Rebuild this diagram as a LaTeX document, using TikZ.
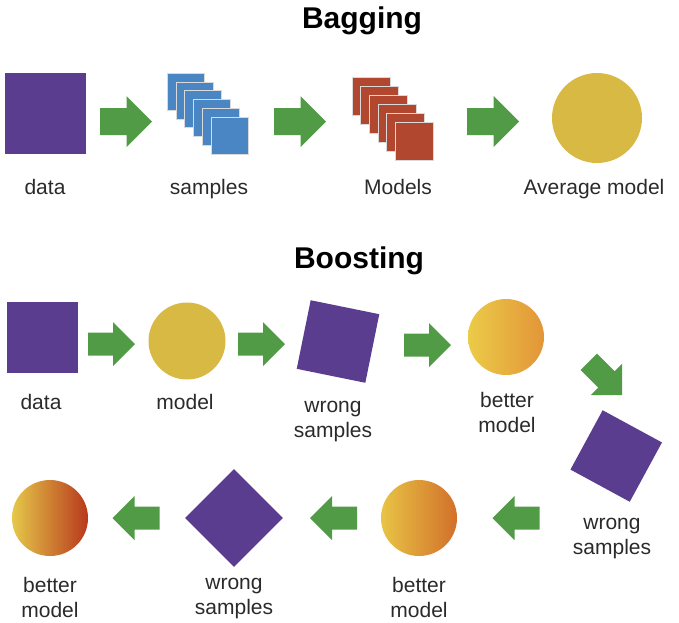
\documentclass[tikz,border=0pt]{standalone}
\usepackage{fontspec}
\setmainfont{Liberation Sans}
\usetikzlibrary{shapes.geometric}
\definecolor{purp}{HTML}{5A3D8F}
\definecolor{sblue}{HTML}{4A85C4}
\definecolor{mred}{HTML}{B0472E}
\definecolor{myel}{HTML}{D8B943}
\definecolor{agreen}{HTML}{519B46}
\definecolor{txtgray}{HTML}{2A2A2A}
\definecolor{gyA}{HTML}{EBCB48}
\definecolor{goA}{HTML}{E39538}
\definecolor{gyB}{HTML}{E8C445}
\definecolor{goB}{HTML}{D2702A}
\definecolor{gyC}{HTML}{E5C84A}
\definecolor{grC}{HTML}{B8381C}
\tikzset{
  garrow/.pic={\fill[agreen] (-23.5,-11.5) -- (1.5,-11.5) -- (1.5,-22) -- (23.5,0) -- (1.5,22) -- (1.5,11.5) -- (-23.5,11.5) -- cycle;},
  garrowbig/.pic={\fill[agreen] (-26,-13.5) -- (0.5,-13.5) -- (0.5,-25.5) -- (26,0) -- (0.5,25.5) -- (0.5,13.5) -- (-26,13.5) -- cycle;},
  lbl/.style={font=\fontsize{21}{24.5}\selectfont, text=txtgray, align=center, inner sep=0pt, anchor=base},
  ttl/.style={font=\fontsize{30}{34}\selectfont\bfseries, inner sep=0pt, anchor=base},
  sqr/.style={rectangle, fill=purp, inner sep=0pt, minimum size=#1},
  circ/.style={circle, inner sep=0pt, minimum size=#1},
  stk/.style={rectangle, inner sep=0pt, minimum size=#1, draw=white!85!black, line width=0.4pt},
}
\begin{document}
\begin{tikzpicture}[x=1pt,y=-1pt]
\useasboundingbox (0,0) rectangle (679,622);
% ---------- Bagging ----------
\node[ttl] (t1) at (362,28) {Bagging};
\node[sqr=81] (bdata) at (45.5,113.5) {};
\pic (ba1) at (126,121.5) {garrowbig};
\foreach \i in {0,...,5}{
  \node[stk=37, fill=sblue] (bs\i) at (185.5+8.8*\i,91.5+8.8*\i) {};
}
\pic (ba2) at (300,121.5) {garrowbig};
\foreach \i in {0,...,5}{
  \node[stk=38, fill=mred] (bm\i) at (371+8.6*\i,96+9*\i) {};
}
\pic (ba3) at (493,121.5) {garrowbig};
\node[circ=90, fill=myel] (bavg) at (597,118) {};
\node[lbl] (lbdata) at (45,194) {data};
\node[lbl] (lbsamp) at (209,194) {samples};
\node[lbl] (lbmod) at (398,194) {Models};
\node[lbl] (lbavg) at (594,194) {Average model};
% ---------- Boosting ----------
\node[ttl] (t2) at (359,268) {Boosting};
\node[sqr=71] (odata) at (42.5,337) {};
\pic (oa1) at (111.5,344) {garrow};
\node[circ=77, fill=myel] (omodel) at (187,341) {};
\pic (oa2) at (261.5,344) {garrow};
\node[sqr=70, rotate=-11.5] (ows1) at (338,341.5) {};
\pic (oa3) at (427.5,345) {garrow};
\node[circ=76, left color=gyA, right color=goA] (obm1) at (506,337) {};
\pic[rotate=-45] (oa4) at (605.4,378.4) {garrow};
\node[sqr=67.5, rotate=-28.5] (ows2) at (616.2,456) {};
\pic[rotate=180] (oa5) at (516,518) {garrow};
\node[circ=76, left color=gyB, right color=goB] (obm2) at (419,518) {};
\pic[rotate=180] (oa6) at (333.5,518) {garrow};
\node[sqr=69, rotate=45] (ows3) at (234,518) {};
\pic[rotate=180] (oa7) at (136,518) {garrow};
\node[circ=76, left color=gyC, right color=grC] (obm3) at (50,518) {};
\node[lbl] (lodata) at (41,409) {data};
\node[lbl] (lomodel) at (185,409) {model};
\node[lbl] (lows1) at (333,437) {wrong\\samples};
\node[lbl] (lobm1) at (507,432) {better\\model};
\node[lbl] (lows2) at (612,554) {wrong\\samples};
\node[lbl] (lobm2) at (419,617) {better\\model};
\node[lbl] (lows3) at (234,614) {wrong\\samples};
\node[lbl] (lobm3) at (50,617) {better\\model};
\end{tikzpicture}
\end{document}
